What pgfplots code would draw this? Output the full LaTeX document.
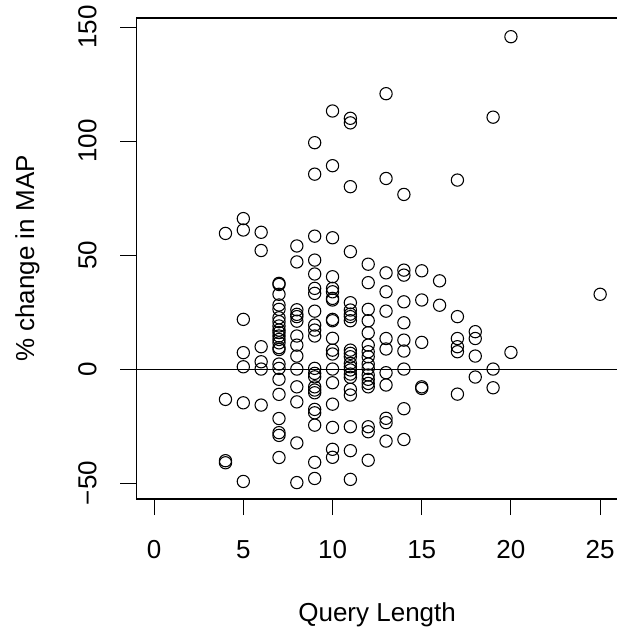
\documentclass[border=0pt]{standalone}
\usepackage{fontspec}
\setmainfont{Liberation Sans}
\usepackage{pgfplots}
\pgfplotsset{compat=1.18}

\pgfplotstableread{
x y
4 59.5
4 -13.3
4 -40.2
4 -41.1
5 66
5 61
5 21.8
5 7.2
5 1.0
5 -14.8
5 -49.3
6 60
6 52
6 9.8
6 3.2
6 0
6 -15.8
7 37.6
7 37.1
7 32.8
7 28.1
7 26.2
7 22.5
7 20.8
7 18.9
7 17.1
7 16.0
7 14.5
7 13.0
7 11.5
7 9.4
7 8.6
7 2.2
7 0.3
7 -4.5
7 -11.1
7 -21.7
7 -27.9
7 -29.1
7 -38.8
8 54
8 47
8 26
8 24
8 23
8 21
8 14.5
8 10.5
8 5.7
8 0
8 -7.8
8 -14.4
8 -32.4
8 -49.8
9 99.3
9 85.5
9 58.3
9 47.8
9 41.7
9 35.4
9 33.2
9 25.4
9 19.3
9 17.1
9 14.5
9 0.3
9 -1.9
9 -3.4
9 -7.8
9 -9.2
9 -10.4
9 -17.7
9 -19.2
9 -24.6
9 -40.9
9 -48
10 113.2
10 89.2
10 57.6
10 40.5
10 35.4
10 33.9
10 31
10 30.3
10 21.8
10 21.2
10 13.5
10 8.3
10 6.6
10 0
10 -6
10 -15.4
10 -25.6
10 -35.2
10 -38.7
11 110
11 108
11 80
11 51.5
11 29.1
11 25.9
11 24.1
11 23
11 21.2
11 8.3
11 6.9
11 5.4
11 2.5
11 1.0
11 -0.4
11 -2.2
11 -3.6
11 -8.9
11 -11.4
11 -25.3
11 -35.8
11 -48.4
12 46
12 37.9
12 26.2
12 21.2
12 15.9
12 10.5
12 7.6
12 5.4
12 2.2
12 0.3
12 -2.6
12 -4.5
12 -6.3
12 -7.8
12 -25.3
12 -27.5
12 -40
13 120.8
13 83.6
13 42.2
13 33.9
13 25.4
13 13.4
13 8.8
13 -1.6
13 -7
13 -21.6
13 -23.5
13 -31.6
14 76.6
14 43.4
14 41.2
14 29.5
14 20.3
14 12.7
14 7.9
14 0
14 -17.4
14 -30.9
15 43.1
15 30.3
15 11.7
15 -7.8
15 -8.5
16 38.7
16 28
17 82.9
17 23
17 13.4
17 9.8
17 7.6
17 -11
18 16.4
18 13.4
18 5.7
18 -3.5
19 110.5
19 0
19 -8.2
20 145.8
20 7.3
25 32.8
}\mapdata

\begin{document}
\fontsize{19.5}{23}\selectfont
\begin{tikzpicture}
% page = the 616x628 px frame, 1px = 0.75pt, box lower left at (0,0)
\path[use as bounding box] (-102.2pt,-96.75pt) rectangle (359.9pt,374.25pt);
\begin{axis}[
  at={(0,0)}, anchor=south west,
  scale only axis, width=361.3pt, height=360.75pt,
  xmin=-1, xmax=26, ymin=-57, ymax=154,
  xtick={0,5,10,15,20,25},
  xticklabels={0,5,10,15,20,25},
  ytick={-50,0,50,100,150},
  yticklabels={−50,0,50,100,150},
  xtick pos=bottom, ytick pos=left,
  tick align=outside, major tick length=12pt,
  tick style={black, line width=0.8pt},
  axis line style={line width=0.8pt},
  tick label style={font=\fontsize{19.5}{23}\selectfont},
  x tick label style={anchor=base},
  y tick label style={rotate=90, anchor=base},
  xticklabel shift=32.25pt,
  yticklabel shift=18pt,
  xlabel={Query Length},
  ylabel={\% change in MAP},
  label style={font=\fontsize{19.5}{23}\selectfont},
  xlabel style={at={(axis description cs:0.5,-0.2551)}, anchor=base},
  ylabel style={at={(axis description cs:-0.2118,0.5)}, anchor=base},
]
\addplot[black, line width=0.8pt] coordinates {(-1,0) (26,0)};
\addplot[only marks, mark=o, mark size=4.6pt, black,
  mark options={line width=0.8pt}] table[x=x, y=y] {\mapdata};
\end{axis}
\end{tikzpicture}
\end{document}
